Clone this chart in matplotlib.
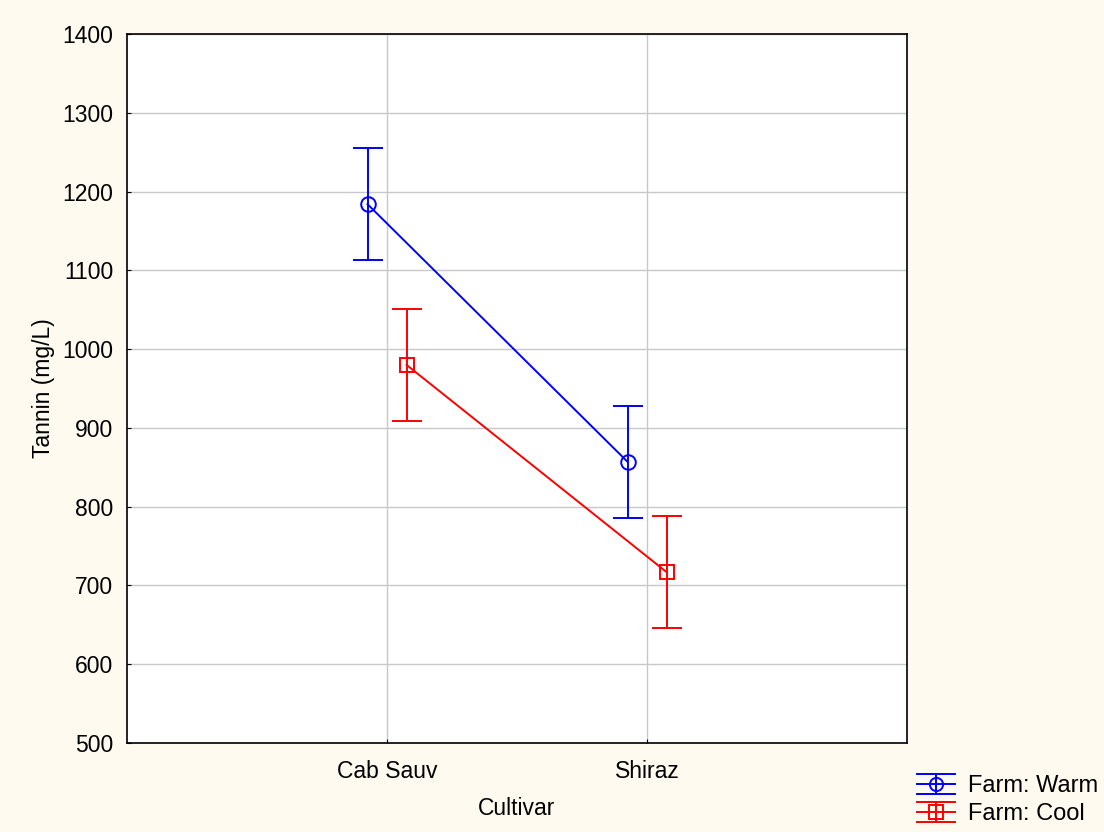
import matplotlib
matplotlib.use("Agg")
import matplotlib.pyplot as plt
from matplotlib.legend_handler import HandlerBase
from matplotlib.lines import Line2D
import numpy as np

plt.rcParams['font.family'] = ['Liberation Sans', 'DejaVu Sans']

cultivars = ["Cab Sauv", "Shiraz"]
warm_mean = [1184, 857]
warm_err = [71, 71]
cool_mean = [980, 717]
cool_err = [71, 71]
series_labels = ["Farm: Warm", "Farm: Cool"]
yticks = [500, 600, 700, 800, 900, 1000, 1100, 1200, 1300, 1400]

bg = '#FEFAF0'
fs = 16.5
fig = plt.figure(figsize=(11.04, 8.32), dpi=100, facecolor=bg)
ax = fig.add_axes([127/1104, 1-743/832, 780/1104, (743-34)/832])
ax.set_facecolor('white')

x = np.arange(1, len(cultivars) + 1)
off = 0.075
ax.errorbar(x - off, warm_mean, yerr=warm_err, color='#0000FF', marker='o', ms=10.5,
            mfc='none', mec='#0000FF', mew=1.4, lw=1.4, capsize=11, capthick=1.4, zorder=3)
ax.errorbar(x + off, cool_mean, yerr=cool_err, color='#FF0000', marker='s', ms=10.5,
            mfc='none', mec='#FF0000', mew=1.4, lw=1.4, capsize=11, capthick=1.4, zorder=3)

ax.set_xlim(0, 3)
ax.set_ylim(500, 1400)
ax.set_xticks(x)
ax.set_xticklabels(cultivars)
ax.set_yticks(yticks)
ax.grid(True, color='#C8C8C8', lw=1)
ax.set_axisbelow(True)
ax.tick_params(axis='y', labelsize=fs, length=3, direction='in', colors='black', pad=10)
ax.tick_params(axis='x', labelsize=fs, length=3, direction='in', colors='black', pad=12)
for s in ax.spines.values():
    s.set_linewidth(1.2)
    s.set_color('black')

ax.set_xlabel("Cultivar", fontsize=fs, labelpad=10)
ax.set_ylabel("Tannin (mg/L)", fontsize=fs, labelpad=5)


class ErrHandler(HandlerBase):
    def __init__(self, color, marker):
        super().__init__()
        self.color = color
        self.marker = marker

    def create_artists(self, legend, orig_handle, xdescent, ydescent, width, height, fontsize, trans):
        cy = height / 2 - ydescent
        d = 7.2
        arts = []
        for yy in (cy - d, cy, cy + d):
            arts.append(Line2D([-xdescent, width - xdescent], [yy, yy], color=self.color, lw=1.4, transform=trans))
        mx = width / 2 - xdescent
        arts.append(Line2D([mx, mx], [cy - d, cy + d], color=self.color, lw=1.4, transform=trans))
        arts.append(Line2D([mx], [cy], marker=self.marker, ms=9.5, mfc='none', mec=self.color, mew=1.4,
                           color=self.color, transform=trans))
        return arts


h1 = Line2D([], [], color='#0000FF')
h2 = Line2D([], [], color='#FF0000')
fig.legend([h1, h2], series_labels,
           handler_map={h1: ErrHandler('#0000FF', 'o'), h2: ErrHandler('#FF0000', 's')},
           loc='lower right', bbox_to_anchor=(1118/1104, -13/832), frameon=False,
           fontsize=17, handlelength=1.6, handletextpad=0.55, labelspacing=0.25, borderpad=0.35)

fig.savefig("out.png", dpi=100, facecolor=bg)
